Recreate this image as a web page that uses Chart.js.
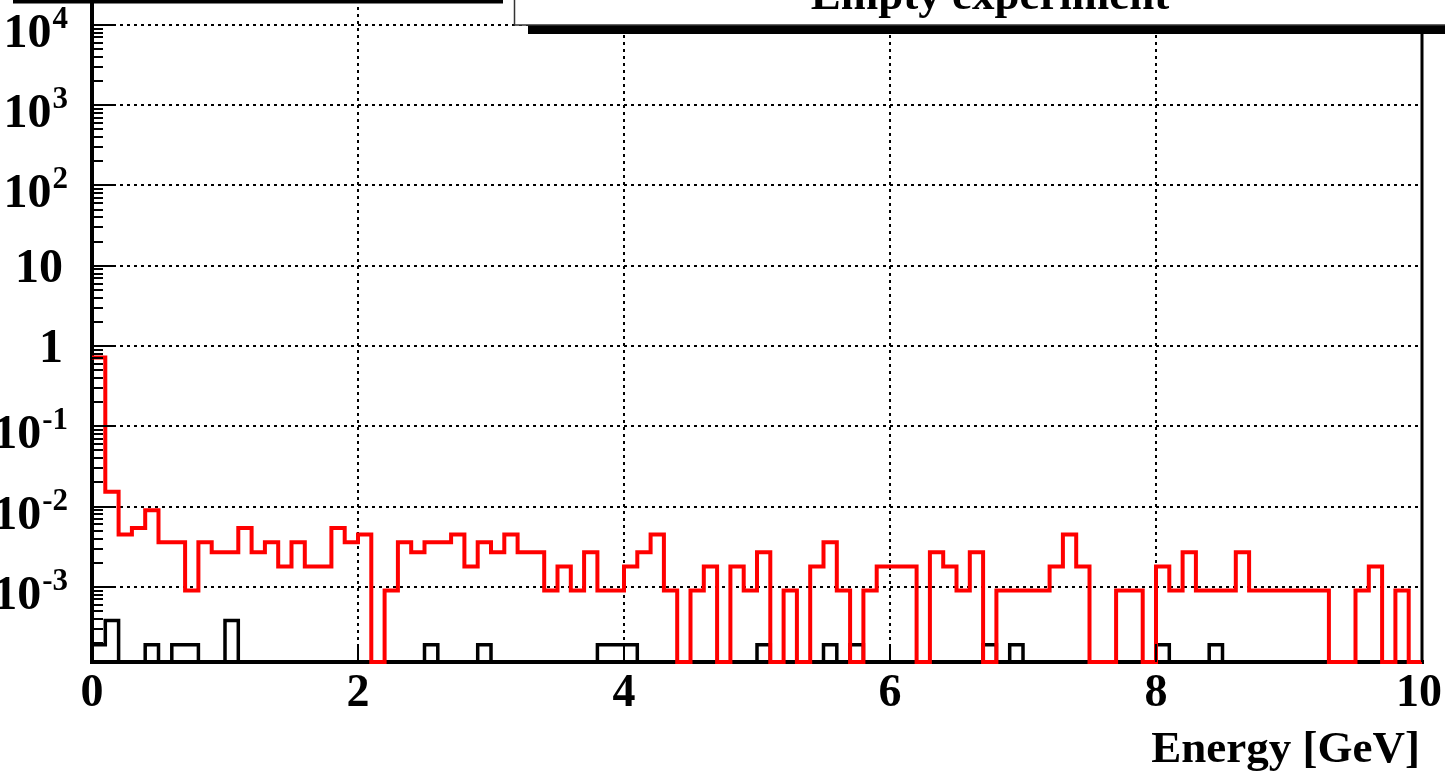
<!DOCTYPE html>
<html>
<head>
<meta charset="utf-8">
<script src="https://cdn.jsdelivr.net/npm/chart.js@4/dist/chart.umd.min.js"></script>
<style>
body { margin: 0; background: #fff; }
</style>
</head>
<body>
<canvas id="energyChart" width="1445" height="775"></canvas>
<script>
// histogram binning: 100 bins of 0.1 GeV
var xMin = 0;
var xMax = 10;
var binWidth = 0.1;

// y range of the frame (log)
var yMin = 1.16e-4;
var yMax = 2.04e4;

// red histogram, per bin
var redValues = [
    0.72, 0.0153, 0.0045, 0.0054, 0.009, 0.0036, 0.0036, 0.0009, 0.0036, 0.0027,
    0.0027, 0.0054, 0.0027, 0.0036, 0.0018, 0.0036, 0.0018, 0.0018, 0.0054, 0.0036,
    0.0045, 0, 0.0009, 0.0036, 0.0027, 0.0036, 0.0036, 0.0045, 0.0018, 0.0036,
    0.0027, 0.0045, 0.0027, 0.0027, 0.0009, 0.0018, 0.0009, 0.0027, 0.0009, 0.0009,
    0.0018, 0.0027, 0.0045, 0.0009, 0, 0.0009, 0.0018, 0, 0.0018, 0.0009,
    0.0027, 0, 0.0009, 0, 0.0018, 0.0036, 0.0009, 0, 0.0009, 0.0018,
    0.0018, 0.0018, 0, 0.0027, 0.0018, 0.0009, 0.0027, 0, 0.0009, 0.0009,
    0.0009, 0.0009, 0.0018, 0.0045, 0.0018, 0, 0, 0.0009, 0.0009, 0,
    0.0018, 0.0009, 0.0027, 0.0009, 0.0009, 0.0009, 0.0027, 0.0009, 0.0009, 0.0009,
    0.0009, 0.0009, 0.0009, 0, 0, 0.0009, 0.0018, 0, 0.0009, 0
];

// black histogram, per bin
var blackValues = [
    0.00019, 0.00038, 0, 0, 0.00019, 0, 0.00019, 0.00019, 0, 0,
    0.00038, 0, 0, 0, 0, 0, 0, 0, 0, 0,
    0, 0, 0, 0, 0, 0.00019, 0, 0, 0, 0.00019,
    0, 0, 0, 0, 0, 0, 0, 0, 0.00019, 0.00019,
    0.00019, 0, 0, 0, 0, 0, 0, 0, 0, 0,
    0.00019, 0, 0, 0, 0, 0.00019, 0, 0.00019, 0, 0,
    0, 0, 0, 0, 0, 0, 0, 0.00019, 0, 0.00019,
    0, 0, 0, 0, 0, 0, 0, 0, 0, 0,
    0.00019, 0, 0, 0, 0.00019, 0, 0, 0, 0, 0,
    0, 0, 0, 0, 0, 0, 0, 0, 0, 0
];

// axis ticks and labels
var xTickValues = [0, 2, 4, 6, 8, 10];
var xTickLabels = ['0', '2', '4', '6', '8', '10'];
var xGridValues = [2, 4, 6, 8];
var yTickValues = [1e-3, 1e-2, 1e-1, 1, 10, 1e2, 1e3, 1e4];
var yTickBase = ['10', '10', '10', '1', '10', '10', '10', '10'];
var yTickExp = ['-3', '-2', '-1', '', '', '2', '3', '4'];

var xTitle = 'Energy [GeV]';
var boxTitle = 'Empty experiment';

var FONT = '"Liberation Serif", "Times New Roman", serif';

function histPoints(values) {
    var pts = [];
    for (var i = 0; i < values.length; i++) {
        var v = values[i] > 0 ? values[i] : yMin;
        pts.push({ x: xMin + i * binWidth, y: v });
        pts.push({ x: xMin + (i + 1) * binWidth, y: v });
    }
    return pts;
}

function line(ctx, x1, y1, x2, y2) {
    ctx.beginPath();
    ctx.moveTo(x1, y1);
    ctx.lineTo(x2, y2);
    ctx.stroke();
}

var framePlugin = {
    id: 'rootFrame',
    beforeDatasetsDraw: function (chart) {
        var ctx = chart.ctx;
        var a = chart.chartArea;
        var xs = chart.scales.x, ys = chart.scales.y;
        ctx.save();
        // dotted grid
        ctx.strokeStyle = '#000';
        ctx.lineWidth = 2;
        ctx.setLineDash([3, 4]);
        yTickValues.forEach(function (v) {
            var y = Math.round(ys.getPixelForValue(v));
            line(ctx, a.left, y, a.right, y);
        });
        xGridValues.forEach(function (v) {
            var x = Math.round(xs.getPixelForValue(v));
            line(ctx, x, a.top, x, a.bottom);
        });
        ctx.setLineDash([]);
        // frame
        ctx.lineWidth = 4;
        line(ctx, a.left, a.top, a.left, a.bottom + 2);
        line(ctx, a.left - 2, a.bottom, a.right + 2, a.bottom);
        ctx.lineWidth = 3;
        line(ctx, a.right, 30, a.right, a.bottom);
        ctx.restore();
    },
    afterDatasetsDraw: function (chart) {
        var ctx = chart.ctx;
        var a = chart.chartArea;
        var xs = chart.scales.x, ys = chart.scales.y;
        ctx.save();
        ctx.strokeStyle = '#000';
        ctx.fillStyle = '#000';

        // y ticks (major + minor), inside the frame
        ctx.lineWidth = 2;
        for (var k = -4; k <= 4; k++) {
            for (var m = 1; m <= 9; m++) {
                var v = m * Math.pow(10, k);
                if (v < yMin || v > yMax) continue;
                var y = Math.round(ys.getPixelForValue(v));
                line(ctx, a.left, y, a.left + (m === 1 ? 22 : 11), y);
            }
        }
        // x ticks
        xTickValues.forEach(function (v) {
            var x = Math.round(xs.getPixelForValue(v));
            line(ctx, x, a.bottom, x, a.bottom - 18);
        });

        // y labels
        ctx.textAlign = 'right';
        ctx.textBaseline = 'alphabetic';
        yTickValues.forEach(function (v, i) {
            var y = ys.getPixelForValue(v);
            if (yTickExp[i] === '') {
                ctx.font = 'bold 48px ' + FONT;
                ctx.fillText(yTickBase[i], 63, y + 16);
            } else {
                ctx.font = 'bold 31px ' + FONT;
                var ew = ctx.measureText(yTickExp[i]).width;
                ctx.fillText(yTickExp[i], 68, y + 3);
                ctx.font = 'bold 48px ' + FONT;
                ctx.fillText(yTickBase[i], 68 - ew - 1, y + 22);
            }
        });

        // x labels
        ctx.font = 'bold 46px ' + FONT;
        ctx.textAlign = 'center';
        xTickValues.forEach(function (v, i) {
            var x = xs.getPixelForValue(v);
            ctx.fillText(xTickLabels[i], i === xTickValues.length - 1 ? x - 3 : x, 706);
        });

        // x title
        ctx.font = 'bold 45px ' + FONT;
        ctx.textAlign = 'right';
        ctx.fillText(xTitle, 1420, 762);

        // top-left stripe
        ctx.fillRect(13, 0, 490, 3.5);

        // title box with shadow
        ctx.fillStyle = '#000';
        ctx.fillRect(528, 25, 1445 - 528, 9);
        ctx.fillStyle = '#fff';
        ctx.fillRect(514, -2, 1445 - 514 + 2, 27);
        ctx.strokeStyle = '#333';
        ctx.lineWidth = 1.5;
        ctx.beginPath();
        ctx.moveTo(514.5, 0);
        ctx.lineTo(514.5, 25);
        ctx.lineTo(1445, 25);
        ctx.stroke();
        ctx.fillStyle = '#000';
        ctx.font = 'bold 45px ' + FONT;
        ctx.textAlign = 'center';
        ctx.fillText(boxTitle, 990, 9);
        ctx.restore();
    }
};

new Chart(document.getElementById('energyChart'), {
    type: 'line',
    data: {
        datasets: [
            {
                label: 'red',
                data: histPoints(redValues),
                borderColor: '#ff0000',
                borderWidth: 4,
                borderJoinStyle: 'miter',
                borderCapStyle: 'butt',
                pointRadius: 0,
                fill: false,
                tension: 0,
                clip: false
            },
            {
                label: 'black',
                data: histPoints(blackValues),
                borderColor: '#000000',
                borderWidth: 3.5,
                borderJoinStyle: 'miter',
                borderCapStyle: 'butt',
                pointRadius: 0,
                fill: false,
                tension: 0,
                clip: false
            }
        ]
    },
    options: {
        responsive: false,
        animation: false,
        events: [],
        layout: { padding: { left: 92, right: 23, top: 0, bottom: 113 } },
        plugins: { legend: { display: false }, tooltip: { enabled: false } },
        scales: {
            x: { type: 'linear', min: xMin, max: xMax, display: false },
            y: { type: 'logarithmic', min: yMin, max: yMax, display: false }
        }
    },
    plugins: [framePlugin]
});
</script>
</body>
</html>
